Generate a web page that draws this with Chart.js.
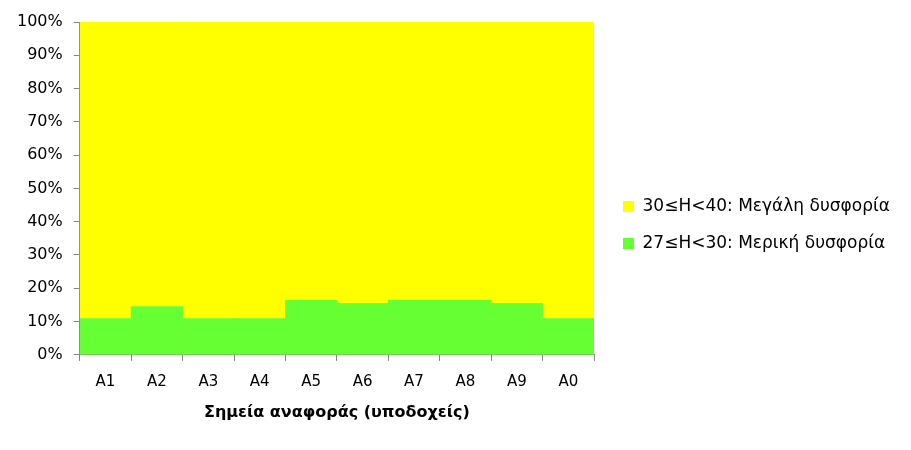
<!DOCTYPE html>
<html>
<head>
<meta charset="utf-8">
<script src="https://cdn.jsdelivr.net/npm/chart.js@4"></script>
<style>
html,body{margin:0;padding:0;background:#fff;}
#wrap{width:911px;height:450px;}
</style>
</head>
<body>
<div id="wrap"><canvas id="c" width="911" height="450"></canvas></div>
<script>
const categories = ['A1','A2','A3','A4','A5','A6','A7','A8','A9','A0'];
const partialLabel = '27≤H<30: Μερική δυσφορία';
const majorLabel = '30≤H<40: Μεγάλη δυσφορία';
const partialValues = [10.9, 14.5, 10.9, 10.9, 16.4, 15.5, 16.4, 16.4, 15.5, 10.9];
const majorValues = [89.1, 85.5, 89.1, 89.1, 83.6, 84.5, 83.6, 83.6, 84.5, 89.1];
const yTicks = [0,10,20,30,40,50,60,70,80,90,100];
const xTitle = 'Σημεία αναφοράς (υποδοχείς)';

const FONT = 'DejaVu Sans';
const axisColor = '#868686';

const legendPlugin = {
  id: 'legendTweak',
  beforeLayout(chart) {
    const lg = chart.legend;
    if (lg && !lg._patched) {
      const orig = lg.fit;
      lg.fit = function() { orig.call(this); this.width = 317; };
      lg._patched = true;
    }
  },
  afterLayout(chart) {
    if (chart.legend) { chart.legend.left += 9; chart.legend.top += 2; }
  }
};

new Chart(document.getElementById('c'), {
  type: 'bar',
  data: {
    labels: categories,
    datasets: [
      { label: partialLabel, data: partialValues, backgroundColor: '#66FF33', borderWidth: 0 },
      { label: majorLabel, data: majorValues, backgroundColor: '#FFFF00', borderWidth: 0 }
    ]
  },
  options: {
    responsive: false,
    animation: false,
    layout: { padding: { left: 6, top: 22, bottom: 24, right: 0 } },
    datasets: { bar: { barPercentage: 1, categoryPercentage: 1 } },
    plugins: {
      tooltip: { enabled: false },
      legend: {
        position: 'right',
        reverse: true,
        labels: {
          font: { family: FONT, size: 17 },
          color: '#000',
          boxWidth: 11,
          boxHeight: 11,
          padding: 20
        }
      }
    },
    scales: {
      x: {
        stacked: true,
        grid: { display: true, drawOnChartArea: false, offset: true, color: axisColor, tickLength: 6 },
        border: { color: axisColor },
        ticks: { font: { family: FONT, size: 15 }, color: '#000', padding: 12 },
        title: { display: true, text: xTitle, font: { family: FONT, size: 16, weight: 'bold' }, color: '#000', padding: { top: 0 } }
      },
      y: {
        stacked: true,
        min: 0, max: 100,
        afterBuildTicks(axis) { axis.ticks = yTicks.map(v => ({ value: v })); },
        grid: { display: true, drawOnChartArea: false, color: axisColor, tickLength: 6 },
        border: { color: axisColor },
        ticks: { font: { family: FONT, size: 16 }, color: '#000', padding: 11, callback: v => v + '%' }
      }
    }
  },
  plugins: [legendPlugin]
});
</script>
</body>
</html>
